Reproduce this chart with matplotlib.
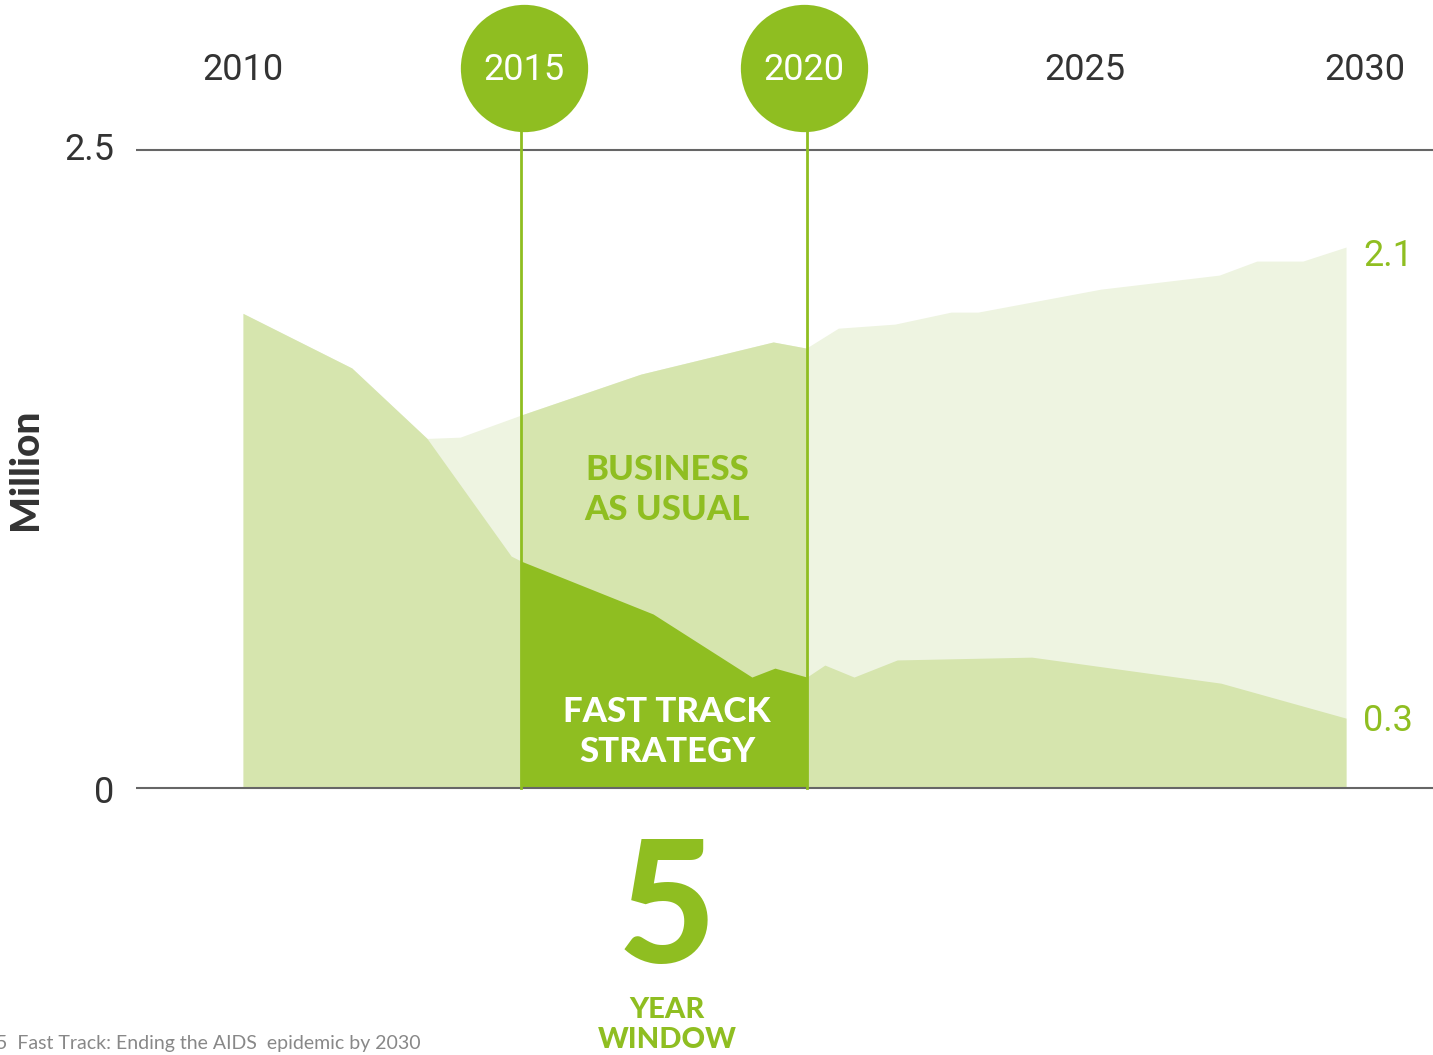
import matplotlib
matplotlib.use("Agg")
import matplotlib.pyplot as plt
import numpy as np
from matplotlib.patches import Rectangle

# ---- data (million) ----
hist_years = [2010.0, 2011.94, 2013.28]
hist_vals = [1.86, 1.646, 1.37]

bau_years = [2013.87, 2014.96, 2017.09, 2019.45, 2020.04, 2020.61, 2021.62,
             2022.62, 2023.10, 2025.29, 2027.40, 2028.07, 2028.89, 2029.66]
bau_vals = [1.375, 1.462, 1.622, 1.748, 1.724, 1.802, 1.818,
            1.865, 1.865, 1.955, 2.010, 2.065, 2.065, 2.12]

fast_years = [2014.78, 2014.96, 2017.31, 2019.07, 2019.48, 2020.05, 2020.37,
              2020.89, 2021.66, 2024.06, 2027.43, 2029.66]
fast_vals = [0.909, 0.889, 0.682, 0.435, 0.470, 0.435, 0.482,
             0.435, 0.502, 0.513, 0.411, 0.274]

year_labels = [2010, 2015, 2020, 2025, 2030]
window = [2014.95, 2020.06]
end_labels = ["2.1", "0.3"]

pale = "#eef4e1"
mid = "#d6e5ae"
bright = "#8fbe21"
dark = "#333333"

fig = plt.figure(figsize=(14.33, 10.55), dpi=100)
ax = fig.add_axes([136 / 1433, 0, 1 - 136 / 1433, 1])
ax.set_xlim(2008.093, 2031.21)
ax.set_ylim(-1.046, 3.088)
ax.axis("off")

bx = hist_years + bau_years
by = hist_vals + bau_vals
fx = hist_years + fast_years
fy = hist_vals + fast_vals

clip = Rectangle((window[0], -1), window[1] - window[0], 5, transform=ax.transData)

ax.fill_between(bx, 0, by, color=pale, lw=0)
p = ax.fill_between(bx, 0, by, color=mid, lw=0)
p.set_clip_path(clip)
ax.fill_between(fx, 0, fy, color=mid, lw=0)
clip2 = Rectangle((window[0], -1), window[1] - window[0], 5, transform=ax.transData)
p2 = ax.fill_between(fx, 0, fy, color=bright, lw=0)
p2.set_clip_path(clip2)

# gridlines
for v in [0, 2.5]:
    ax.axhline(v, color="#666666", lw=1.5, zorder=3)

# window lines and circles
circ_y = 2.821
for w in window:
    ax.plot([w, w], [0, 2.6], color=bright, lw=2, zorder=4)
ax.scatter([2015, 2020], [circ_y, circ_y], s=8400, color=bright, zorder=5, lw=0)

for yr in year_labels:
    c = "white" if yr in (2015, 2020) else dark
    ax.text(yr, circ_y - 0.008, str(yr), ha="center", va="center", fontsize=26,
            family="Roboto", color=c, zorder=6)

# y labels
ax.text(2007.71, 2.5, "2.5", ha="right", va="center", fontsize=26,
        family="Roboto", color=dark)
ax.text(2007.71, -0.02, "0", ha="right", va="center", fontsize=26,
        family="Roboto", color=dark)
ax.text(0.018, 0.555, "Million", transform=fig.transFigure, rotation=90,
        ha="center", va="center", fontsize=28, family="Lato", weight="black", color=dark)

# end labels
ax.text(2029.97, bau_vals[-1] - 0.035, end_labels[0], ha="left", va="center", fontsize=26,
        family="Roboto", color=bright)
ax.text(2029.97, 0.262, end_labels[1], ha="left", va="center", fontsize=26,
        family="Roboto", color=bright)

# annotations
ax.text(2017.56, 1.168, "BUSINESS\nAS USUAL", ha="center", va="center", fontsize=25,
        family="Lato", weight="black", color=bright, linespacing=1.3, zorder=6)
ax.text(2017.56, 0.221, "FAST TRACK\nSTRATEGY", ha="center", va="center", fontsize=25,
        family="Lato", weight="black", color="white", linespacing=1.3, zorder=6)
ax.text(2017.56, -0.49, "5", ha="center", va="center", fontsize=122,
        family="Lato", weight="black", color=bright)
ax.text(2017.56, -0.93, "YEAR\nWINDOW", ha="center", va="center", fontsize=21,
        family="Lato", weight="black", color=bright, linespacing=1.2)

fig.text(-0.003, 1 - 1044 / 1055, "5  Fast Track: Ending the AIDS  epidemic by 2030",
         ha="left", va="center", fontsize=14, family="Lato", color="#888888")

fig.savefig("out.png", dpi=100)
